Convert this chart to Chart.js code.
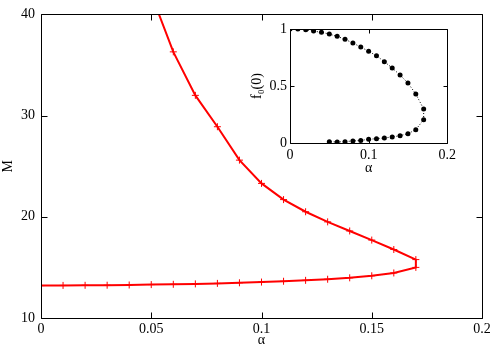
<!DOCTYPE html>
<html>
<head>
<meta charset="utf-8">
<script src="https://cdn.jsdelivr.net/npm/chart.js@4/dist/chart.umd.min.js"></script>
<style>
html,body{margin:0;padding:0;background:#fff;}
#wrap{position:relative;width:500px;height:350px;}
#main{position:absolute;left:0;top:0;}
#inset{position:absolute;left:240px;top:15px;}
</style>
</head>
<body>
<div id="wrap">
<canvas id="main" width="500" height="350"></canvas>
<canvas id="inset" width="220" height="165"></canvas>
</div>
<script>
// Main plot: M vs alpha
const alphaLow = [0,0.01,0.02,0.03,0.04,0.05,0.06,0.07,0.08,0.09,0.10,0.11,0.12,0.13,0.14,0.15,0.16,0.17];
const mLow     = [13.2,13.22,13.23,13.24,13.26,13.3,13.33,13.37,13.42,13.48,13.55,13.63,13.72,13.83,13.97,14.17,14.45,15.0];
const alphaUp  = [0.17,0.16,0.15,0.14,0.13,0.12,0.11,0.10,0.09,0.08,0.07,0.06,0.05];
const mUp      = [15.77,16.77,17.7,18.6,19.5,20.5,21.7,23.3,25.6,28.9,32.0,36.3,42.0];
const mainXTicks = [0,0.05,0.1,0.15,0.2];
const mainYTicks = [10,20,30,40];

// Inset: f0(0) vs alpha
const fAlphaUp = [0,0.01,0.02,0.03,0.04,0.05,0.06,0.07,0.08,0.09,0.10,0.11,0.12,0.13,0.14,0.15,0.16,0.17];
const fUp      = [1.0,1.0,0.994,0.982,0.971,0.956,0.936,0.909,0.877,0.842,0.804,0.766,0.713,0.658,0.596,0.526,0.430,0.298];
const fAlphaLow = [0.17,0.16,0.15,0.14,0.13,0.12,0.11,0.10,0.09,0.08,0.07,0.06,0.05];
const fLow      = [0.205,0.117,0.082,0.064,0.053,0.044,0.038,0.032,0.023,0.018,0.012,0.009,0.012];
const insetXTicks = [0,0.1,0.2];
const insetYTicks = [0,0.5,1];

const FONT = {family:'"Liberation Serif", "DejaVu Serif", serif', size:14};

function pts(xs, ys){ return xs.map((x,i)=>({x:x,y:ys[i]})); }

function framePlugin(tickLen){
  return {
    id:'frame',
    afterDraw(chart){
      const ctx = chart.ctx;
      const a = chart.chartArea;
      const xs = chart.scales.x, ys = chart.scales.y;
      const L = Math.round(a.left)+0.5, R = Math.round(a.right)+0.5, T = Math.round(a.top)+0.5, B = Math.round(a.bottom)+0.5;
      ctx.save();
      ctx.strokeStyle = '#000';
      ctx.lineWidth = 1;
      ctx.beginPath();
      ctx.rect(L, T, R-L, B-T);
      xs.ticks.forEach(t=>{
        const px = Math.round(xs.getPixelForValue(t.value))+0.5;
        ctx.moveTo(px,B); ctx.lineTo(px,B-tickLen);
        ctx.moveTo(px,T); ctx.lineTo(px,T+tickLen);
      });
      ys.ticks.forEach(t=>{
        const py = Math.round(ys.getPixelForValue(t.value))+0.5;
        ctx.moveTo(L,py); ctx.lineTo(L+tickLen,py);
        ctx.moveTo(R,py); ctx.lineTo(R-tickLen,py);
      });
      ctx.stroke();
      ctx.restore();
    }
  };
}

function fixedTicks(arr){
  return function(scale){ scale.ticks = arr.map(v=>({value:v})); };
}

new Chart(document.getElementById('main'), {
  type:'scatter',
  data:{datasets:[{
    data: pts(alphaLow, mLow).concat(pts(alphaUp, mUp)),
    showLine:true,
    borderColor:'#ff0000',
    borderWidth:2,
    pointStyle:'cross',
    pointRadius:3.5,
    pointBorderWidth:1,
    pointBorderColor:'#ff0000',
    tension:0
  }]},
  options:{
    responsive:false,
    animation:false,
    events:[],
    layout:{padding:{top:11,right:18,left:0,bottom:0}},
    plugins:{legend:{display:false},tooltip:{enabled:false}},
    scales:{
      x:{type:'linear',min:0,max:0.2,
        afterBuildTicks:fixedTicks(mainXTicks),
        afterFit(s){ s.height = 32; },
        grid:{display:false,drawTicks:false},
        border:{display:false},
        ticks:{color:'#000',font:FONT,padding:3,maxRotation:0,callback:v=>String(v)},
        title:{display:true,text:'α',color:'#000',font:FONT,padding:{top:0,bottom:1}}
      },
      y:{type:'linear',min:10,max:40,
        afterBuildTicks:fixedTicks(mainYTicks),
        afterFit(s){ s.width = 41; },
        grid:{display:false,drawTicks:false},
        border:{display:false},
        ticks:{color:'#000',font:FONT,padding:6,callback:v=>String(v)},
        title:{display:true,text:'M',color:'#000',font:FONT,padding:{top:0,bottom:0}}
      }
    }
  },
  plugins:[framePlugin(6)]
});

new Chart(document.getElementById('inset'), {
  type:'scatter',
  data:{datasets:[{
    data: pts(fAlphaUp, fUp).concat(pts(fAlphaLow, fLow)),
    showLine:true,
    borderColor:'#000',
    borderWidth:1,
    borderDash:[1,2],
    pointStyle:'circle',
    pointRadius:2.5,
    pointBackgroundColor:'#000',
    pointBorderColor:'#000',
    pointBorderWidth:0,
    tension:0
  }]},
  options:{
    responsive:false,
    animation:false,
    events:[],
    layout:{padding:{top:14,right:11,left:0,bottom:0}},
    plugins:{legend:{display:false},tooltip:{enabled:false}},
    scales:{
      x:{type:'linear',min:0,max:0.2,
        afterBuildTicks:fixedTicks(insetXTicks),
        afterFit(s){ s.height = 37; },
        grid:{display:false,drawTicks:false},
        border:{display:false},
        ticks:{color:'#000',font:FONT,padding:4,maxRotation:0,callback:v=>String(v)},
        title:{display:true,text:'α',color:'#000',font:FONT,padding:{top:0,bottom:3}}
      },
      y:{type:'linear',min:0,max:1,
        afterBuildTicks:fixedTicks(insetYTicks),
        afterFit(s){ s.width = 50; },
        grid:{display:false,drawTicks:false},
        border:{display:false},
        ticks:{color:'#000',font:FONT,padding:3,callback:v=>String(v)},
        title:{display:true,text:'f₀(0)',color:'#000',font:FONT,padding:{top:9,bottom:0}}
      }
    }
  },
  plugins:[framePlugin(4)]
});
</script>
</body>
</html>
